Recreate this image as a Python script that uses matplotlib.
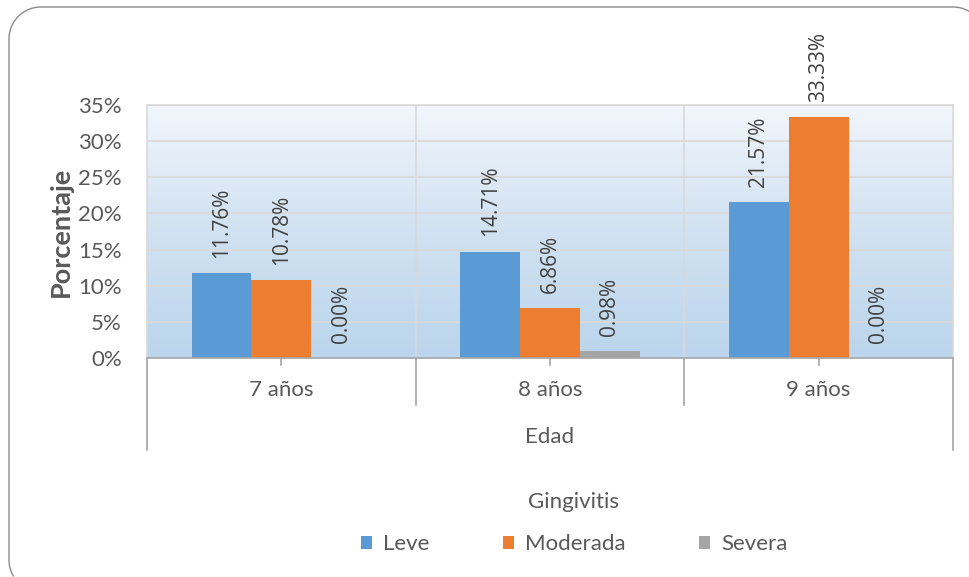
import matplotlib
matplotlib.use("Agg")
import matplotlib.pyplot as plt
import numpy as np
from matplotlib.patches import Patch
from matplotlib.lines import Line2D
from matplotlib.colors import LinearSegmentedColormap

categories = ["7 años", "8 años", "9 años"]
series_names = ["Leve", "Moderada", "Severa"]
leve = [11.76, 14.71, 21.57]
moderada = [10.78, 6.86, 33.33]
severa = [0.00, 0.98, 0.00]
yticks = [0, 5, 10, 15, 20, 25, 30, 35]
colors = ["#5B9BD5", "#ED7D31", "#A5A5A5"]
TXT = "#595959"

plt.rcParams['font.family'] = ['Lato', 'DejaVu Sans']
FS = 16

fig = plt.figure(figsize=(9.7, 5.77), dpi=100, facecolor="white")
W, H = 970, 577

# background overlay axes in pixel units for the rounded chart border
bg = fig.add_axes([0, 0, 1, 1], zorder=-5)
bg.set_xlim(0, W)
bg.set_ylim(H, 0)
bg.axis("off")
r, x0, y0, x1, y1 = 32, 9, 7, 985, 592
t = np.linspace(0, np.pi / 2, 40)
pts_x = np.concatenate([
    (x1 - r) + r * np.cos(t),            # top-right corner
    (x0 + r) - r * np.sin(t),            # top-left corner
    (x0 + r) - r * np.cos(t),            # bottom-left corner
])
pts_y = np.concatenate([
    (y0 + r) - r * np.sin(t),
    (y0 + r) - r * np.cos(t),
    (y1 - r) + r * np.sin(t),
])
vis = (pts_x <= W - 0.5) & (pts_y <= H - 0.5)
bg.plot(pts_x[vis], pts_y[vis], color="#8C8C8C", lw=1.0)

left, right = 147 / W, 953 / W
bottom, top = 1 - 358 / H, 1 - 105 / H
ax = fig.add_axes([left, bottom, right - left, top - bottom])
ax.set_facecolor("none")

x = np.arange(len(categories))
ax.set_xlim(-0.5, len(categories) - 0.5)
ax.set_ylim(0, 35)

# gradient background
grad = np.linspace(0, 1, 256).reshape(-1, 1)
cmap = LinearSegmentedColormap.from_list(
    "bg", [(0, "#BBD5EC"), (0.55, "#D3E3F2"), (1, "#F2F6FC")])
ax.imshow(grad, extent=[-0.5, len(categories) - 0.5, 0, 35], origin="lower",
          aspect="auto", cmap=cmap, zorder=0)

# gridlines
for yv in yticks[1:]:
    ax.axhline(yv, color="#D9D9D9", lw=1.2, zorder=1)
for xv in np.arange(0.5, len(categories) - 0.5, 1):
    ax.axvline(xv, color="#D9D9D9", lw=1.2, zorder=1)

bw = 0.2226
data = [leve, moderada, severa]
for i, (vals, c) in enumerate(zip(data, colors)):
    pos = x + (i - 1) * bw
    ax.bar(pos, vals, width=bw, color=c, zorder=2, label=series_names[i])
    for p, v in zip(pos, vals):
        ax.annotate(f"{v:.2f}%", (p, v), xytext=(0, 11), textcoords="offset points",
                    rotation=90, ha="center", va="bottom", fontsize=15,
                    family=["Open Sans", "DejaVu Sans"],
                    color="#404040", annotation_clip=False)

for s in ["top", "right", "left"]:
    ax.spines[s].set_color("#D9D9D9")
    ax.spines[s].set_linewidth(1.2)
ax.spines["bottom"].set_color("#A6A6A6")
ax.spines["bottom"].set_linewidth(1.2)

ax.set_yticks(yticks)
ax.set_yticklabels([f"{t}%" for t in yticks], fontsize=FS, color=TXT)
ax.tick_params(axis="y", length=0, pad=18)
ax.set_xticks([])
ax.set_ylabel("Porcentaje", fontsize=19.5, fontweight="bold", color=TXT, labelpad=4)

# multi-level category axis
trans = ax.get_xaxis_transform()
ph = 358 - 105
def yax(py):
    return (358 - py) / ph
lc = "#A6A6A6"
for xv in np.arange(-0.5, len(categories), 1):
    outer = xv in (-0.5, len(categories) - 0.5)
    ax.add_line(Line2D([xv, xv], [0, yax(450 if outer else 405)], transform=trans,
                       color=lc, lw=1.2, clip_on=False))
for xv in x:
    ax.add_line(Line2D([xv, xv], [0, yax(365)], transform=trans,
                       color=lc, lw=1.2, clip_on=False))
    ax.text(xv, yax(390), categories[xv], transform=trans, ha="center",
            va="center", fontsize=FS, color=TXT)
ax.text(1, yax(437), "Edad", transform=trans, ha="center", va="center",
        fontsize=FS, color=TXT)

handles = [Patch(facecolor=c, edgecolor="none") for c in colors]
leg = fig.legend(handles, series_names, title="Gingivitis", loc="center",
                 bbox_to_anchor=(574 / W, 1 - 523 / H), ncol=3, frameon=False,
                 fontsize=FS, title_fontsize=FS, handlelength=0.5,
                 handleheight=0.5, handletextpad=0.5, columnspacing=3.3,
                 labelcolor=TXT)
leg.get_title().set_color(TXT)
leg._legend_box.sep = 16

fig.savefig("out.png", dpi=100)
